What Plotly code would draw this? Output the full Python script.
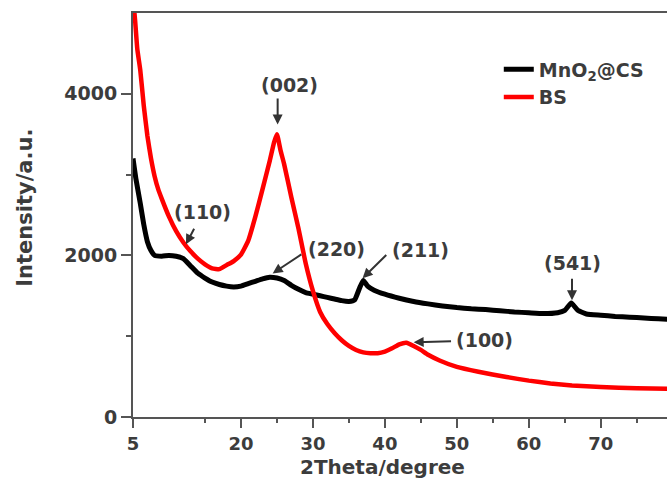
import plotly.graph_objects as go

# XRD pattern of MnO2@CS (black)
mno2_theta = [5.0, 5.4, 6.0, 6.5, 7.0, 7.5, 8.0, 9.0, 10.0, 11.0, 12.0, 13.0, 14.0,
              15.0, 16.0, 17.0, 18.0, 19.0, 20.0, 21.0, 22.0, 23.0, 24.0, 25.0, 26.0,
              27.0, 28.0, 29.0, 30.0, 31.0, 32.0, 33.0, 34.0, 35.0, 35.8, 36.5, 37.0,
              37.6, 38.5, 40.0, 42.0, 44.0, 46.0, 48.0, 50.0, 52.0, 54.0, 56.0, 58.0,
              60.0, 62.0, 64.0, 65.0, 65.9, 66.8, 68.0, 70.0, 72.0, 74.0, 76.0, 78.0, 80.0]
mno2_int = [3200, 2950, 2650, 2380, 2170, 2060, 2000, 1990, 2000, 1990, 1960, 1870, 1780,
            1720, 1670, 1640, 1620, 1610, 1620, 1650, 1680, 1710, 1730, 1720, 1690,
            1630, 1580, 1540, 1520, 1500, 1480, 1460, 1440, 1430, 1450, 1600, 1690,
            1620, 1570, 1520, 1470, 1430, 1400, 1375, 1355, 1340, 1330, 1315, 1300,
            1290, 1280, 1290, 1320, 1410, 1320, 1275, 1260, 1245, 1235, 1225, 1215, 1205]

# XRD pattern of BS (red)
bs_theta = [5.0, 5.3, 5.6, 6.0, 6.5, 7.0, 7.5, 8.0, 8.5, 9.0, 10.0, 11.0, 12.0, 13.0,
            14.0, 15.0, 16.0, 17.0, 18.0, 19.0, 20.0, 21.0, 22.0, 23.0, 24.0, 24.6,
            25.0, 25.5, 26.0, 27.0, 28.0, 29.0, 30.0, 31.0, 32.0, 33.0, 34.0, 35.0,
            36.0, 37.0, 38.0, 39.0, 40.0, 41.0, 42.0, 43.0, 44.0, 45.0, 46.0, 47.6,
            50.0, 53.0, 56.9, 60.0, 63.0, 66.0, 70.0, 75.0, 80.0]
bs_int = [5200, 4900, 4550, 4300, 3850, 3480, 3200, 2980, 2820, 2700, 2480, 2300, 2160,
          2050, 1960, 1890, 1840, 1830, 1880, 1930, 2010, 2180, 2480, 2820, 3170, 3400,
          3500, 3300, 3130, 2720, 2330, 1900, 1560, 1300, 1150, 1040, 950, 880,
          830, 800, 790, 790, 810, 850, 900, 920, 880, 830, 770, 700,
          620, 560, 495, 450, 415, 390, 370, 355, 348]

x_tickvals = [5, 20, 30, 40, 50, 60, 70]
x_ticktext = ["5", "20", "30", "40", "50", "60", "70"]
x_unlabeled = [10]
x_minor = [15, 25, 35, 45, 55, 65, 75]
y_tickvals = [0, 2000, 4000]
y_minor = [1000, 3000]
x_range = [5, 79.2]

# Reflection labels: (text, label x, label y, arrow tail x, tail y, tip x, tip y)
peak_labels = [
    ("(002)", 26.8, 4104, 25.1, 3960, 25.1, 3620),
    ("(110)", 14.65, 2537, 13.6, 2348, 12.36, 2137),
    ("(220)", 33.3, 2075, 28.6, 2024, 24.4, 1777),
    ("(211)", 44.9, 2063, 40.4, 2024, 36.9, 1717),
    ("(541)", 66.0, 1902, 66.0, 1729, 66.0, 1444),
    ("(100)", 53.9, 949, 49.4, 937, 44.0, 924),
]

FONT = "DejaVu Sans"
TXT = "#3c3c3c"
AXC = "#555555"

fig = go.Figure()
fig.add_trace(go.Scatter(x=mno2_theta, y=mno2_int, mode="lines",
                         name="<b>MnO<sub>2</sub>@CS</b>",
                         line=dict(color="#000000", width=5,
                                   shape="spline", smoothing=0.4)))
fig.add_trace(go.Scatter(x=bs_theta, y=bs_int, mode="lines", name="<b>BS</b>",
                         line=dict(color="#ff0000", width=4.5,
                                   shape="spline", smoothing=0.4)))

annotations = []
for text, lx, ly, tx, ty, px, py in peak_labels:
    annotations.append(dict(x=lx, y=ly, xref="x", yref="y", text=f"<b>{text}</b>",
                            showarrow=False,
                            font=dict(family=FONT, size=19, color=TXT)))
    annotations.append(dict(x=px, y=py, ax=tx, ay=ty, xref="x", yref="y",
                            axref="x", ayref="y", text="", showarrow=True,
                            arrowhead=2, arrowsize=1.0, arrowwidth=2,
                            arrowcolor="#333333", standoff=0, startstandoff=0))

# Axis titles
annotations.append(dict(x=0.468, y=-0.1248, xref="paper", yref="paper",
                        text="<b>2Theta/degree</b>", showarrow=False,
                        xanchor="center", yanchor="middle",
                        font=dict(family=FONT, size=20, color=TXT)))
annotations.append(dict(x=-0.2022, y=0.518, xref="paper", yref="paper",
                        text="<b>Intensity/a.u.</b>", showarrow=False,
                        textangle=-90, xanchor="center", yanchor="middle",
                        font=dict(family=FONT, size=21, color=TXT)))

fig.update_layout(
    width=667, height=482,
    margin=dict(l=133, r=0, t=13, b=64.5),
    paper_bgcolor="white", plot_bgcolor="white",
    font=dict(family=FONT, color=TXT),
    showlegend=True,
    legend=dict(x=0.685, y=0.9076, xanchor="left", yanchor="top",
                bgcolor="rgba(0,0,0,0)", borderwidth=0,
                font=dict(family=FONT, size=19, color=TXT), tracegroupgap=0),
    annotations=annotations,
    xaxis=dict(
        range=x_range, showgrid=False, zeroline=False,
        showline=True, linecolor=AXC, linewidth=2, mirror=True,
        ticks="outside", ticklen=9, tickwidth=2, tickcolor=AXC,
        tickmode="array", tickvals=x_tickvals,
        ticktext=[f"<b>{t}</b>" for t in x_ticktext],
        tickfont=dict(family=FONT, size=18, color=TXT),
        minor=dict(tickmode="array", tickvals=x_minor, ticks="outside",
                   ticklen=4, tickwidth=2, tickcolor=AXC),
    ),
    # extra unlabeled long tick on the 2-theta axis
    xaxis2=dict(overlaying="x", anchor="y", side="bottom", range=x_range,
                showgrid=False, zeroline=False, showline=False,
                tickmode="array", tickvals=x_unlabeled, showticklabels=False,
                ticks="outside", ticklen=9, tickwidth=2, tickcolor=AXC),
    yaxis=dict(
        range=[0, 5000], showgrid=False, zeroline=False,
        showline=True, linecolor=AXC, linewidth=2, mirror=False,
        ticks="outside", ticklen=10, tickwidth=2, tickcolor=AXC,
        tickmode="array", tickvals=y_tickvals,
        ticktext=[f"<b>{v}</b>" for v in y_tickvals],
        tickfont=dict(family=FONT, size=19, color=TXT),
        minor=dict(tickmode="array", tickvals=y_minor, ticks="outside",
                   ticklen=5, tickwidth=2, tickcolor=AXC),
    ),
)

fig.write_html("out.html")
